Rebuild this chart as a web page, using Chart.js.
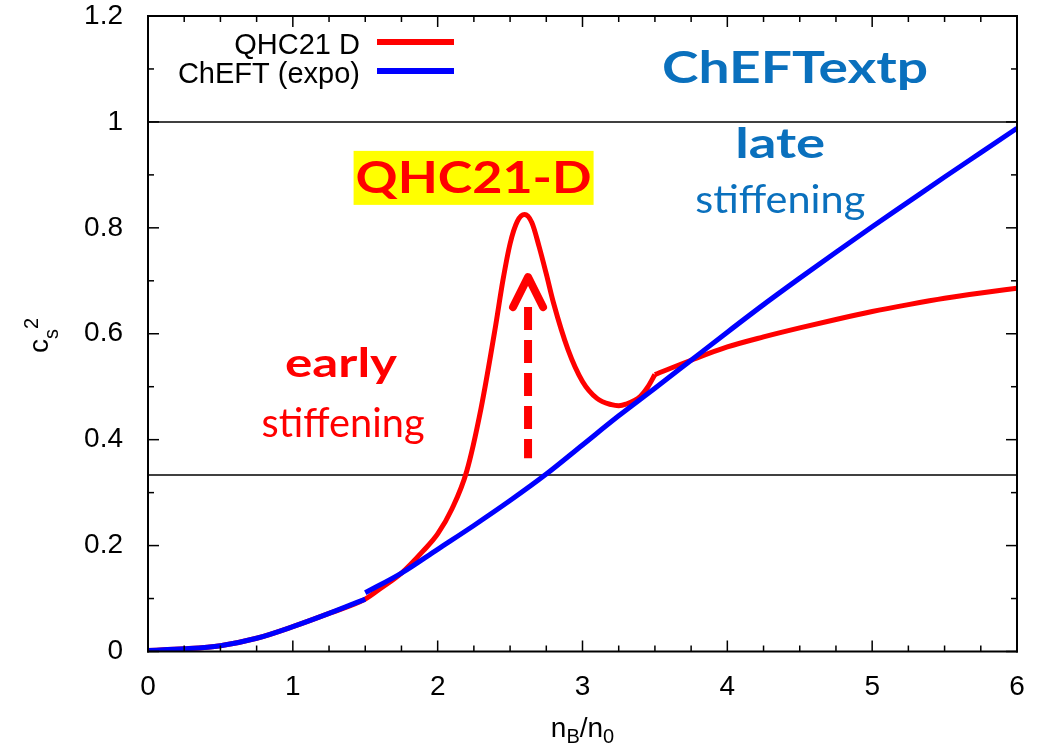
<!DOCTYPE html>
<html>
<head>
<meta charset="utf-8">
<script src="https://cdn.jsdelivr.net/npm/chart.js@4.4.1/dist/chart.umd.min.js"></script>
<style>
  html, body { margin: 0; padding: 0; background: #fff; }
  #wrap { width: 1041px; height: 748px; }
</style>
</head>
<body>
<div id="wrap"><canvas id="csChart" width="1041" height="748"></canvas></div>
<script>
// axis ticks
const xTicks = [0, 1, 2, 3, 4, 5, 6];
const yTicks = [0, 0.2, 0.4, 0.6, 0.8, 1, 1.2];
const xMinorStep = 0.25;
const yMinorStep = 0.1;

// ChEFT (expo): nuclear part, then the extrapolation above 1.5 n0
const cheftLowX = [0, 0.25, 0.5, 0.75, 1.0, 1.25, 1.5];
const cheftLowY = [0.002, 0.005, 0.011, 0.025, 0.047, 0.072, 0.099];
const cheftHighX = [1.5, 1.75, 2.0, 2.25, 2.5, 2.75, 3.0, 3.25, 3.5, 3.75, 4.0, 4.25, 4.5, 4.75, 5.0, 5.25, 5.5, 5.75, 6.0];
const cheftHighY = [0.111, 0.148, 0.193, 0.238, 0.285, 0.335, 0.39, 0.445, 0.497, 0.55, 0.603, 0.655, 0.705, 0.754, 0.802, 0.849, 0.896, 0.942, 0.988];

// QHC21 D: crossover region up to 3.5 n0, quark matter beyond
const qhcInnerX = [0, 0.25, 0.5, 0.75, 1.0, 1.25, 1.5, 1.6, 1.75, 1.9, 2.0, 2.1, 2.2, 2.3, 2.4, 2.45, 2.5, 2.55, 2.6, 2.65, 2.7, 2.75, 2.8, 2.9, 3.0, 3.1, 3.2, 3.25, 3.3, 3.4, 3.45, 3.5];
const qhcInnerY = [0.002, 0.005, 0.011, 0.025, 0.047, 0.072, 0.099, 0.118, 0.148, 0.19, 0.222, 0.27, 0.34, 0.46, 0.615, 0.70, 0.77, 0.812, 0.825, 0.81, 0.765, 0.713, 0.658, 0.57, 0.51, 0.478, 0.466, 0.464, 0.467, 0.482, 0.499, 0.523];
const qhcOuterX = [3.5, 3.75, 4.0, 4.25, 4.5, 4.75, 5.0, 5.25, 5.5, 5.75, 6.0];
const qhcOuterY = [0.523, 0.55, 0.575, 0.594, 0.611, 0.627, 0.642, 0.655, 0.667, 0.677, 0.686];

// reference lines: causality and conformal limit
const refLevels = [1, 1 / 3];

// arrow under the peak
const arrowX = 2.624;
const arrowFrom = 0.365;
const arrowTo = 0.707;

const RED = '#ff0000';
const BLUE = '#0000ff';
const TEXT_BLUE = '#0a70bd';

const qhcLabel = 'QHC21 D';
const cheftLabel = 'ChEFT (expo)';

const pts = (xs, ys) => xs.map((v, i) => ({ x: v, y: ys[i] }));

function curve(label, xs, ys, color) {
  return {
    label: label,
    data: pts(xs, ys),
    borderColor: color,
    borderWidth: 5,
    pointRadius: 0,
    cubicInterpolationMode: 'monotone',
    fill: false
  };
}

const datasets = [
  curve(cheftLabel, cheftLowX, cheftLowY, BLUE),
  curve(cheftLabel, cheftHighX, cheftHighY, BLUE),
  curve(qhcLabel, qhcInnerX, qhcInnerY, RED),
  curve(qhcLabel, qhcOuterX, qhcOuterY, RED)
];
refLevels.forEach(v => datasets.push({
  label: '',
  data: [{ x: xTicks[0], y: v }, { x: xTicks[xTicks.length - 1], y: v }],
  borderColor: '#000',
  borderWidth: 1.5,
  pointRadius: 0
}));

// text notes: centre x / baseline y in data units, w = drawn width in px
const notes = [
  { text: 'ChEFTextp', x: 4.468, y: 1.074, w: 266, font: 'bold 43px Lato', color: TEXT_BLUE },
  { text: 'late', x: 4.365, y: 0.932, w: 90, font: 'bold 42px Lato', color: TEXT_BLUE },
  { text: 'stiffening', x: 4.365, y: 0.828, w: 170, font: '39px Lato', color: TEXT_BLUE },
  { text: 'early', x: 1.333, y: 0.5185, w: 112, font: 'bold 40px Lato', color: RED },
  { text: 'stiffening', x: 1.347, y: 0.405, w: 163, font: '40px Lato', color: RED }
];

const tickFont = { family: '"Liberation Sans", Arial, sans-serif', size: 28, lineHeight: 1 };

function fitText(ctx, text, cx, base, w) {
  const sx = w / ctx.measureText(text).width;
  ctx.save();
  ctx.translate(cx, base);
  ctx.scale(sx, 1);
  ctx.fillText(text, 0, 0);
  ctx.restore();
}

// box around the plot with inward major/minor ticks on all four sides
function drawFrame(chart) {
  const ctx = chart.ctx;
  const xs = chart.scales.x, ys = chart.scales.y;
  const L = xs.left, R = xs.right, T = ys.top, B = ys.bottom;
  ctx.save();
  ctx.fillStyle = '#000';
  const nx = Math.round((xs.max - xs.min) / xMinorStep);
  for (let i = 0; i <= nx; i++) {
    const len = i % 4 === 0 ? 11 : 6;
    const px = xs.getPixelForValue(xs.min + i * xMinorStep);
    ctx.fillRect(px - 0.75, B - len, 1.5, len);
    ctx.fillRect(px - 0.75, T, 1.5, len);
  }
  const ny = Math.round((ys.max - ys.min) / yMinorStep);
  for (let i = 0; i <= ny; i++) {
    const len = i % 2 === 0 ? 11 : 6;
    const py = ys.getPixelForValue(ys.min + i * yMinorStep);
    ctx.fillRect(L, py - 0.75, len, 1.5);
    ctx.fillRect(R - len, py - 0.75, len, 1.5);
  }
  ctx.fillRect(L - 1, T - 1, R - L + 2, 2);
  ctx.fillRect(L - 1, B - 1, R - L + 2, 2);
  ctx.fillRect(L - 1, T - 1, 2, B - T + 2);
  ctx.fillRect(R - 1, T - 1, 2, B - T + 2);
  ctx.restore();
}

const framePlugin = {
  id: 'frame',
  afterDatasetsDraw(chart) {
    drawFrame(chart);
    const { ctx, scales: { x, y } } = chart;
    ctx.save();
    ctx.textAlign = 'center';
    ctx.textBaseline = 'alphabetic';

    // QHC21-D tag on a yellow box
    const tx = x.getPixelForValue(2.248), ty = y.getPixelForValue(0.866);
    ctx.fillStyle = '#ffff00';
    ctx.fillRect(tx - 120, ty - 42, 240, 54);
    ctx.font = 'bold 43px Lato';
    ctx.fillStyle = RED;
    fitText(ctx, 'QHC21-D', tx, ty, 236);

    notes.forEach(n => {
      ctx.font = n.font;
      ctx.fillStyle = n.color;
      fitText(ctx, n.text, x.getPixelForValue(n.x), y.getPixelForValue(n.y), n.w);
    });

    // dashed arrow
    const ax = x.getPixelForValue(arrowX);
    const yb = y.getPixelForValue(arrowFrom);
    const yt = y.getPixelForValue(arrowTo);
    ctx.strokeStyle = RED;
    ctx.lineWidth = 8;
    ctx.setLineDash([23, 10]);
    ctx.lineCap = 'butt';
    ctx.beginPath();
    ctx.moveTo(ax, yt + 30);
    ctx.lineTo(ax, yb);
    ctx.stroke();
    ctx.setLineDash([]);
    ctx.lineCap = 'round';
    ctx.lineJoin = 'round';
    ctx.beginPath();
    ctx.moveTo(ax - 15, yt + 30);
    ctx.lineTo(ax, yt);
    ctx.lineTo(ax + 15, yt + 30);
    ctx.stroke();
    ctx.restore();
  },
  afterDraw(chart) {
    const { ctx, chartArea: a } = chart;
    ctx.save();
    // legend
    const entries = [[qhcLabel, RED], [cheftLabel, BLUE]];
    ctx.font = '29px "Liberation Sans", Arial, sans-serif';
    ctx.textAlign = 'right';
    ctx.textBaseline = 'alphabetic';
    entries.forEach(([label, color], i) => {
      const base = 54 + i * 29;
      ctx.fillStyle = '#000';
      ctx.fillText(label, 360, base);
      ctx.strokeStyle = color;
      ctx.lineWidth = 6;
      ctx.beginPath();
      ctx.moveTo(377, base - 12);
      ctx.lineTo(454, base - 12);
      ctx.stroke();
    });

    // x title n_B/n_0
    ctx.textAlign = 'left';
    ctx.fillStyle = '#000';
    const big = '28px "Liberation Sans", Arial, sans-serif';
    const small = '20px "Liberation Sans", Arial, sans-serif';
    const parts = [['n', big, 0], ['B', small, 6], ['/n', big, 0], ['0', small, 6]];
    let total = 0;
    parts.forEach(p => { ctx.font = p[1]; total += ctx.measureText(p[0]).width; });
    let cx = (a.left + a.right) / 2 - total / 2;
    parts.forEach(p => {
      ctx.font = p[1];
      ctx.fillText(p[0], cx, 737 + p[2]);
      cx += ctx.measureText(p[0]).width;
    });

    // y title c_s^2
    ctx.translate(48, 353);
    ctx.rotate(-Math.PI / 2);
    ctx.font = big;
    ctx.fillText('c', 0, 0);
    let off = ctx.measureText('c').width;
    ctx.font = small;
    ctx.fillText('s', off, 10);
    off += ctx.measureText('s').width;
    ctx.fillText('2', off, -10);
    ctx.restore();
  }
};

const noOverhang = s => {
  s.paddingTop = 0; s.paddingBottom = 0; s.paddingLeft = 0; s.paddingRight = 0;
};

new Chart(document.getElementById('csChart'), {
  type: 'line',
  data: { datasets: datasets },
  options: {
    responsive: false,
    animation: false,
    layout: { padding: { left: 0, top: 16, right: 24, bottom: 0 } },
    plugins: { legend: { display: false }, tooltip: { enabled: false } },
    scales: {
      x: {
        type: 'linear',
        min: 0,
        max: 6,
        grid: { display: false },
        border: { display: false },
        ticks: { font: tickFont, color: '#000', padding: 14, maxRotation: 0, callback: v => String(v) },
        afterBuildTicks: s => { s.ticks = xTicks.map(v => ({ value: v })); },
        afterFit: s => { s.height = 96.5; noOverhang(s); }
      },
      y: {
        min: 0,
        max: 1.2,
        grid: { display: false },
        border: { display: false },
        ticks: { font: tickFont, color: '#000', padding: 17, callback: v => String(v) },
        afterBuildTicks: s => { s.ticks = yTicks.map(v => ({ value: v })); },
        afterFit: s => { s.width = 148; noOverhang(s); }
      }
    }
  },
  plugins: [framePlugin]
});
</script>
</body>
</html>
